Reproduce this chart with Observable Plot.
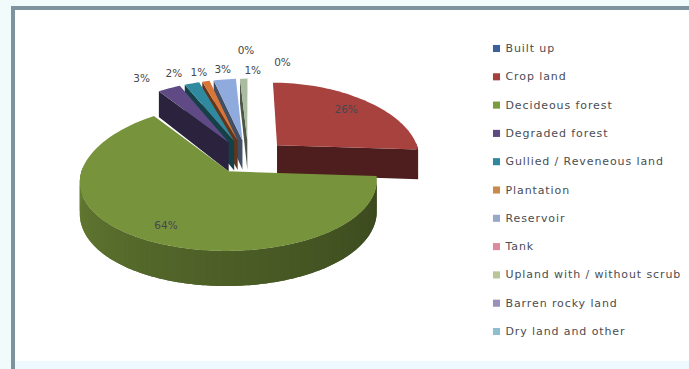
<!DOCTYPE html>
<html>
<head>
<meta charset="utf-8">
<script src="https://cdn.jsdelivr.net/npm/d3@7"></script>
<script src="https://cdn.jsdelivr.net/npm/@observablehq/plot@0.6"></script>
<style>
  html, body { margin: 0; padding: 0; background: #fff; }
  #chart { position: relative; width: 689px; height: 369px; overflow: hidden; }
  #chart svg { position: absolute; left: 0; top: 0; }
  .legend-text text { letter-spacing: 0.9px; }
</style>
</head>
<body>
<div id="chart"></div>
<script>
// Land use classes and their percentage shares, clockwise from twelve o'clock
const categories = ["Built up", "Crop land", "Decideous forest", "Degraded forest",
  "Gullied / Reveneous land", "Plantation", "Reservoir", "Tank",
  "Upland with / without scrub", "Barren rocky land", "Dry land and other"];
const shares = [0, 26, 64, 3, 2, 1, 3, 0, 1, 0, 0];
const showLabel = [true, true, true, true, true, true, true, true, true, false, false];

// Colours: top faces of the slices, then legend swatches
const faceColors = ["#4f81bd", "#a8423f", "#77933c", "#5f4a85", "#2f8aa0", "#d8763a",
  "#8faadc", "#d98c9c", "#a9bca0", "#9a90b8", "#8fbfcf"];
const swatchColors = ["#3d5f9a", "#a5403c", "#7c9a3e", "#5d4a80", "#31859c", "#c98a4e",
  "#98a8c8", "#d98c9c", "#b8c49a", "#9a90b8", "#8fbfcf"];

// Label offsets in pixels from each slice's rim midpoint
const labelNudgeX = [34, -20, 19, -27.5, -18, -7, -2, 7, 9, 0, 0];
const labelNudgeY = [-16, 9, -15, -10, -10, -9, -10, -28, -8, 0, 0];

// Perspective model of the exploded pie
const view = {cx: 248, cy: 156, rx: 143, perspective: 0.14, zLinear: 70.8, zQuad: 6.25,
  depth: 30, explodeX: 0.28, explodeZ: 0.235};

function project(X, Z, drop = 0) {
  const s = 1 + view.perspective * Z;
  return {
    x: view.cx + view.rx * X * s,
    y: view.cy + view.zLinear * Z + view.zQuad * Z * Z + drop * view.depth * s
  };
}

// Turn shares into angular extents
const total = d3.sum(shares);
let running = 0;
const slices = categories.map((name, i) => {
  const a0 = running / total * 2 * Math.PI;
  running += shares[i];
  const a1 = running / total * 2 * Math.PI;
  const mid = (a0 + a1) / 2;
  return {name, i, share: shares[i], a0, a1, mid,
    ox: view.explodeX * Math.sin(mid), oz: -view.explodeZ * Math.cos(mid)};
});

const rim = (sl, a, drop) => project(sl.ox + Math.sin(a), sl.oz - Math.cos(a), drop);
const apex = (sl, drop) => project(sl.ox, sl.oz, drop);

// Rim walls darken toward the right of the pie, as if lit from the left
const rimShade = a => {
  const t = Math.abs(((a * 180 / Math.PI) - 270)) / 180;
  return 0.45 + 1.6 * Math.min(1, t);
};

// Polygons for the solid: walls first, then the top face, back slices before front ones
const drawOrder = [10, 9, 8, 7, 6, 5, 4, 3, 1, 2];
let polyId = 0;
function addPolygon(target, points, fill) {
  const id = polyId++;
  for (const p of points) target.push({id, x: p.x, y: p.y, fill});
}
const layers = [];
for (const i of drawOrder) {
  const sl = slices[i];
  if (sl.share === 0) continue;
  const base = d3.color(faceColors[i]);
  const wallDark = base.darker(2.2).formatHex();
  const walls = [], rims = [], tops = [];
  // Only the cut faces turned toward the viewer are drawn
  if (-Math.sin(sl.a0) > 1e-6) addPolygon(walls, [apex(sl, 0), rim(sl, sl.a0, 0), rim(sl, sl.a0, 1), apex(sl, 1)], wallDark);
  if (Math.sin(sl.a1) > 1e-6) addPolygon(walls, [apex(sl, 0), rim(sl, sl.a1, 0), rim(sl, sl.a1, 1), apex(sl, 1)], wallDark);
  const steps = Math.max(2, Math.ceil((sl.a1 - sl.a0) / (2 * Math.PI / 180)));
  const angles = d3.range(steps + 1).map(k => sl.a0 + (sl.a1 - sl.a0) * k / steps);
  // Each rim strip runs on under its neighbour so no seams show; back-facing rim is left out
  const lap = (sl.a1 - sl.a0) / steps;
  d3.pairs(angles).forEach(([u, v]) => {
    if (-Math.cos((u + v) / 2) < -0.05) return;
    const w = Math.min(sl.a1, v + lap);
    const pts = d3.range(0, 5).map(k => u + (w - u) * k / 4);
    addPolygon(rims, [...pts.map(a => rim(sl, a, 0)), ...pts.reverse().map(a => rim(sl, a, 1))],
      base.darker(rimShade((u + v) / 2)).formatHex());
  });
  addPolygon(tops, [apex(sl, 0), ...angles.map(a => rim(sl, a, 0))], base.formatHex());
  layers.push(walls, rims, tops);
}

// Percentage labels sit relative to the rim midpoint of their slice
const labels = slices.filter(d => showLabel[d.i]).map(d => {
  const p = rim(d, d.mid, 0);
  return {text: `${d.share}%`, x: p.x + labelNudgeX[d.i], y: p.y + labelNudgeY[d.i]};
});

// Legend rows evenly spaced down the right side
const legendRow = d3.scalePoint().domain(categories).range([48, 331]);
const legend = categories.map((name, i) => ({name, y: legendRow(name), fill: swatchColors[i]}));

const solidMarks = layers.filter(d => d.length).map(rows =>
  Plot.line(rows, {x: "x", y: "y", z: "id", fill: "fill", strokeWidth: 0, curve: "linear-closed"}));

const chart = Plot.plot({
  width: 689,
  height: 369,
  margin: 0,
  x: {type: "linear", domain: [0, 689], range: [0, 689], axis: null},
  y: {type: "linear", domain: [0, 369], range: [0, 369], axis: null},
  color: {type: "identity"},
  style: {background: "#fff", fontFamily: "'DejaVu Sans', sans-serif"},
  marks: [
    // Chart area backdrop and its frame
    Plot.rect([{}], {x1: () => 0, x2: () => 689, y1: () => 0, y2: () => 6, fill: "#f1fbfb"}),
    Plot.rect([{}], {x1: () => 0, x2: () => 11, y1: () => 0, y2: () => 369, fill: "#f1fbfb"}),
    Plot.rect([{}], {x1: () => 15, x2: () => 689, y1: () => 361, y2: () => 369, fill: "#eef8ff"}),
    Plot.rect([{}], {x1: () => 11, x2: () => 689, y1: () => 6, y2: () => 10, fill: "#7e92a0"}),
    Plot.rect([{}], {x1: () => 11, x2: () => 15, y1: () => 6, y2: () => 369, fill: "#7e92a0"}),
    // Pie solid
    ...solidMarks,
    // Slice percentages
    Plot.text(labels, {x: "x", y: "y", text: "text", fontSize: 10.5, fill: "#45484c"}),
    // Legend
    Plot.dot(legend, {x: () => 496, y: "y", symbol: "square", r: 4, fill: "fill"}),
    Plot.text(legend, {x: () => 505, y: "y", text: "name", textAnchor: "start", fontSize: 11,
      fill: "#4a4d52", className: "legend-text"})
  ]
});
document.getElementById("chart").appendChild(chart);
</script>
</body>
</html>
